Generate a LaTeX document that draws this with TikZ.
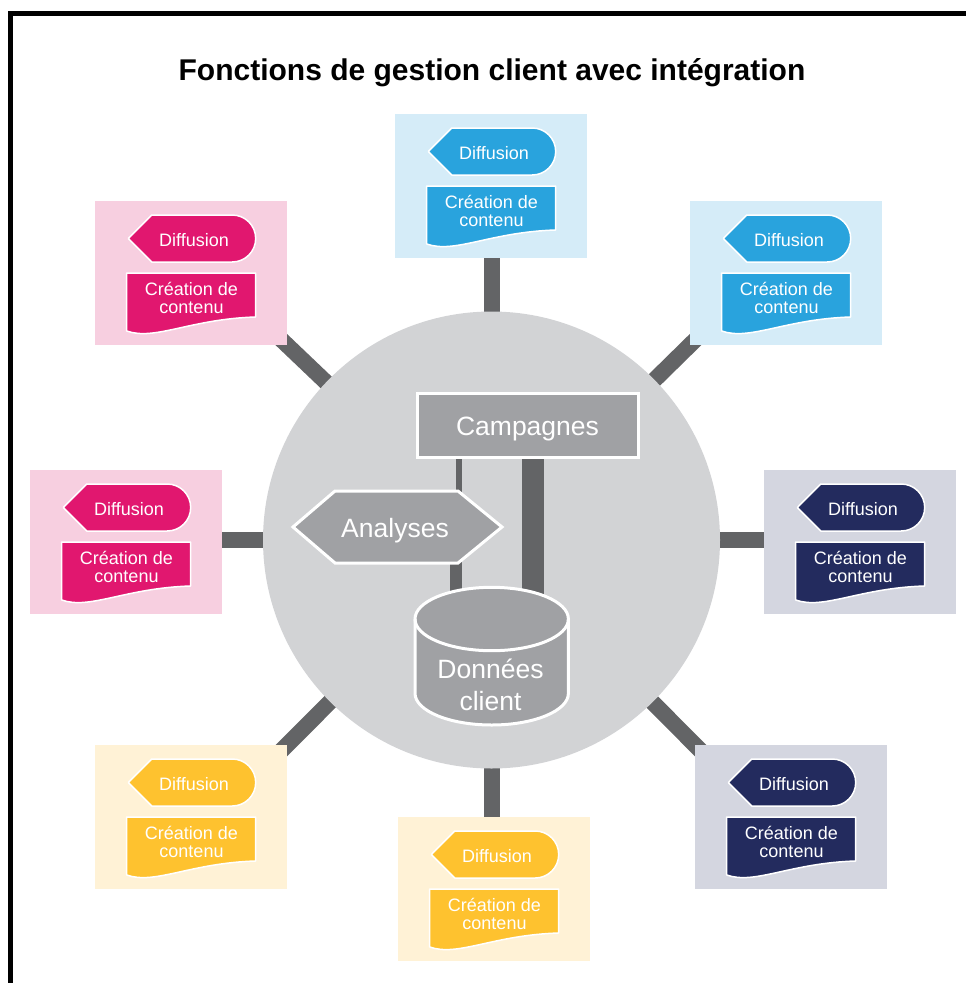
\documentclass[tikz,border=0pt]{standalone}
\usepackage{fontspec}
\setmainfont{Liberation Sans}
\usetikzlibrary{backgrounds}

\definecolor{bluedark}{HTML}{29A3DD}
\definecolor{bluelight}{HTML}{D5ECF8}
\definecolor{pinkdark}{HTML}{E1176F}
\definecolor{pinklight}{HTML}{F7CFE0}
\definecolor{navydark}{HTML}{232B5E}
\definecolor{navylight}{HTML}{D4D6E0}
\definecolor{yellowdark}{HTML}{FEC22F}
\definecolor{yellowlight}{HTML}{FFF2D6}
\definecolor{hubgray}{HTML}{D2D3D5}
\definecolor{nodegray}{HTML}{A0A1A4}
\definecolor{linkgray}{HTML}{636466}

\pgfdeclarelayer{links}
\pgfdeclarelayer{front}
\pgfsetlayers{background,main,links,front}

\tikzset{
  panel/.style={rectangle, minimum width=192pt, minimum height=144pt, inner sep=0pt, draw=none},
  tagshape/.style={draw=white, line width=1.5pt, line join=round},
  smalltxt/.style={font=\fontsize{18}{18}\selectfont, text=white, anchor=base, inner sep=0pt},
  bigtxt/.style={font=\fontsize{26.5}{26.5}\selectfont, text=white, anchor=base, inner sep=0pt},
  innershape/.style={fill=nodegray, draw=white, line width=3pt},
  spoke/.style={draw=linkgray, line width=16pt, shorten >=-40pt},
  link/.style={draw=linkgray},
  ghost/.style={rectangle, inner sep=0pt, draw=none}
}

% One colour-coded function panel: background, "Diffusion" tag and document shape
\newcommand\fonctionpanel[5]{%
  \node[panel, fill=#5] (#1) at (#2+96,#3+72) {};
  \begin{scope}[shift={(#2,#3)}]
    \draw[tagshape, fill=#4] (33.3,37.5) -- (56.7,14) -- (137.2,14)
      arc[start angle=-90, end angle=90, radius=23.5] -- (56.7,61) -- cycle;
    \draw[tagshape, fill=#4] (31.7,72) -- (160.7,72) -- (160.7,116)
      .. controls (95,118) and (60,140) .. (31.7,130) -- cycle;
    \node[smalltxt] (#1-d) at (99,45.3) {Diffusion};
    \node[smalltxt] (#1-c) at (96.5,94.3) {Création de};
    \node[smalltxt] (#1-e) at (96.5,112.7) {contenu};
  \end{scope}}

\begin{document}
\begin{tikzpicture}[x=1pt, y=-1pt]
  \useasboundingbox (0,0) rectangle (966,983);

  % frame
  \draw[line width=5pt, line join=miter] (10,983) -- (10,13.5) -- (966,13.5);

  % title
  \node[anchor=base, inner sep=0pt, font=\bfseries\fontsize{30}{30}\selectfont] (title)
    at (492,80) {Fonctions de gestion client avec intégration};

  % central hub
  \node[circle, fill=hubgray, minimum size=457pt, inner sep=0pt] (hub) at (491.5,540) {};

  % surrounding panels
  \fonctionpanel{t}{395}{114}{bluedark}{bluelight}
  \fonctionpanel{tr}{690}{201}{bluedark}{bluelight}
  \fonctionpanel{r}{764}{470}{navydark}{navylight}
  \fonctionpanel{br}{695}{745}{navydark}{navylight}
  \fonctionpanel{b}{398}{817}{yellowdark}{yellowlight}
  \fonctionpanel{bl}{95}{745}{yellowdark}{yellowlight}
  \fonctionpanel{l}{30}{470}{pinkdark}{pinklight}
  \fonctionpanel{tl}{95}{201}{pinkdark}{pinklight}

  % spokes from the hub to every panel
  \begin{pgfonlayer}{background}
    \draw[spoke] (hub.center) -- (hub.center |- t.south);
    \draw[spoke] (hub.center) -- (hub.center |- b.north);
    \draw[spoke] (hub.center) -- (hub.center -| l.east);
    \draw[spoke] (hub.center) -- (hub.center -| r.west);
    \draw[spoke] (hub.center) -- (tl.south east);
    \draw[spoke] (hub.center) -- (tr.south west);
    \draw[spoke] (hub.center) -- (bl.north east);
    \draw[spoke] (hub.center) -- (br.north west);
  \end{pgfonlayer}

  % inner elements
  \begin{pgfonlayer}{front}
    \node[rectangle, innershape, minimum width=221pt, minimum height=64pt, inner sep=0pt]
      (camp) at (527.5,425) {};
    \node[bigtxt] (camp-t) at (527.5,435) {Campagnes};

    \draw[innershape] (293,527) -- (335,491) -- (458,491) -- (502,527)
      -- (458,563) -- (335,563) -- cycle;
    \node[ghost, minimum width=209pt, minimum height=72pt] (ana) at (397.5,527) {};
    \node[bigtxt] (ana-t) at (395,537.7) {Analyses};

    \draw[innershape] (415,619) -- (415,693.3)
      arc[start angle=180, end angle=0, x radius=76.7, y radius=31.7]
      -- (568.4,619)
      arc[start angle=0, end angle=-180, x radius=76.7, y radius=31.7] -- cycle;
    \draw[draw=white, line width=3pt] (415,619)
      arc[start angle=180, end angle=0, x radius=76.7, y radius=31.7];
    \node[ghost, minimum width=153pt, minimum height=139pt] (db) at (491.7,656) {};
    \node[bigtxt] (db-t1) at (490.5,678.3) {Données};
    \node[bigtxt] (db-t2) at (490.5,710) {client};
  \end{pgfonlayer}

  % links between the inner elements
  \begin{pgfonlayer}{links}
    \coordinate (xa) at (459,0);
    \coordinate (xb) at (455.5,0);
    \coordinate (xc) at (533.2,0);
    \draw[link, line width=6pt] (camp.center -| xa) -- (ana.center -| xa);
    \draw[link, line width=12pt] (ana.center -| xb) -- (db.center -| xb);
    \draw[link, line width=22pt] (camp.center -| xc) -- (db.center -| xc);
  \end{pgfonlayer}
\end{tikzpicture}
\end{document}
